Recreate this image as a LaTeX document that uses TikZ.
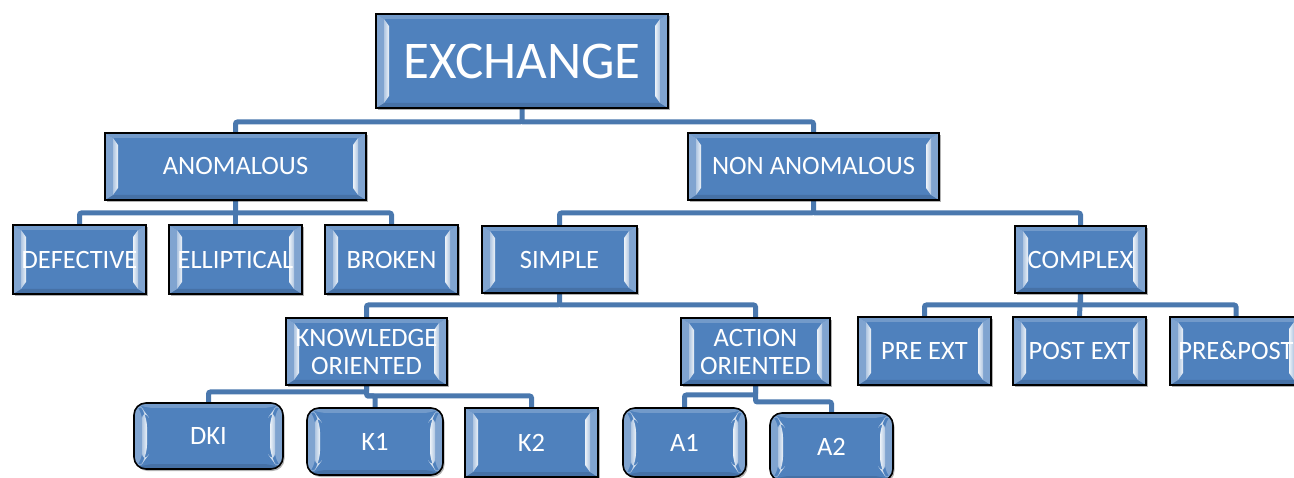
\documentclass[tikz,border=0pt]{standalone}
\usepackage{fontspec}
\setmainfont{Carlito}
\usetikzlibrary{calc,backgrounds,shadows}
\definecolor{boxblue}{HTML}{4F81BD}
\definecolor{linkblue}{HTML}{4A78AE}
\tikzset{
  bevelpic/.style={path picture={
    \path (path picture bounding box.south west) coordinate (bsw)
          (path picture bounding box.north east) coordinate (bne);
    % top band
    \fill[boxblue!80!white] (bsw|-bne) -- (bne) -- ($(bne)+(-8pt,-5pt)$) -- ($(bsw|-bne)+(8pt,-5pt)$) -- cycle;
    % bottom band
    \fill[boxblue!88!black] (bsw) -- (bne|-bsw) -- ($(bne|-bsw)+(-8pt,5pt)$) -- ($(bsw)+(8pt,5pt)$) -- cycle;
    % left band
    \fill[boxblue!72!white] (bsw|-bne) -- ($(bsw|-bne)+(8pt,-5pt)$) -- ($(bsw)+(8pt,5pt)$) -- (bsw) -- cycle;
    % right band
    \fill[boxblue!72!white] (bne) -- ($(bne)+(-8pt,-5pt)$) -- ($(bne|-bsw)+(-8pt,5pt)$) -- (bne|-bsw) -- cycle;
    % left highlight strip
    \shade[left color=boxblue!45!white, right color=white!90!boxblue]
      ($(bsw|-bne)+(8pt,-5pt)$) -- ($(bsw|-bne)+(13pt,-12pt)$) -- ($(bsw)+(13pt,12pt)$) -- ($(bsw)+(8pt,5pt)$) -- cycle;
    % right highlight strip
    \shade[right color=boxblue!45!white, left color=white!90!boxblue]
      ($(bne)+(-8pt,-5pt)$) -- ($(bne)+(-13pt,-12pt)$) -- ($(bne|-bsw)+(-13pt,12pt)$) -- ($(bne|-bsw)+(-8pt,5pt)$) -- cycle;
  }},
  box/.style={draw=black, line width=1.6pt, fill=boxblue, text=white, inner sep=0pt,
    align=center, font=\fontsize{26.5}{28}\selectfont, bevelpic,
    drop shadow={shadow xshift=1.5pt, shadow yshift=-2pt, opacity=0.3, fill=black}},
  rbox/.style={box, rounded corners=12pt},
  conn/.style={draw=linkblue, line width=5pt, rounded corners=2pt},
}
\begin{document}
\begin{tikzpicture}[x=1pt, y=-1pt]
\useasboundingbox (0,0) rectangle (1294,478);

\node[box, minimum width=292pt, minimum height=94pt, font=\fontsize{53}{56}\selectfont] (EX) at (522,61) {EXCHANGE};

\node[box, minimum width=261pt, minimum height=67pt] (AN) at (235.5,166.5) {ANOMALOUS};
\node[box, minimum width=251pt, minimum height=67pt] (NA) at (813.5,166.5) {NON ANOMALOUS};

\node[box, minimum width=133pt, minimum height=69pt] (DEF) at (79.5,259.5) {DEFECTIVE};
\node[box, minimum width=133pt, minimum height=69pt] (ELL) at (235.5,259.5) {ELLIPTICAL};
\node[box, minimum width=133pt, minimum height=69pt] (BRO) at (391.5,259.5) {BROKEN};

\node[box, minimum width=155pt, minimum height=67pt] (SIM) at (559.5,259.5) {SIMPLE};
\node[box, minimum width=131pt, minimum height=67pt] (COM) at (1080.5,259.5) {COMPLEX};

\node[box, minimum width=161pt, minimum height=67pt] (KN) at (366.5,351.5) {KNOWLEDGE\\ORIENTED};
\node[box, minimum width=149pt, minimum height=67pt] (AC) at (755.5,351.5) {ACTION\\ORIENTED};

\node[box, minimum width=133pt, minimum height=68pt] (PRE) at (924.5,351) {PRE EXT};
\node[box, minimum width=133pt, minimum height=68pt] (POST) at (1079.5,351) {POST EXT};
\node[box, minimum width=132pt, minimum height=68pt] (PP) at (1236,351) {PRE\&POST};

\node[rbox, minimum width=149pt, minimum height=66pt] (DKI) at (208.5,436) {DKI};
\node[rbox, minimum width=136pt, minimum height=67pt] (K1) at (375,441.5) {K1};
\node[box, minimum width=133pt, minimum height=69pt] (K2) at (531.5,442.5) {K2};
\node[rbox, minimum width=123pt, minimum height=69pt] (A1) at (684.5,442.5) {A1};
\node[rbox, minimum width=123pt, minimum height=68pt] (A2) at (831.5,447) {A2};

\begin{scope}[on background layer]
\draw[conn] (EX.south) -- (EX.south |- 0,122) -| (AN.north);
\draw[conn] (EX.south |- 0,122) -| (NA.north);

\draw[conn] (AN.south) -- (AN.south |- 0,213) -| (DEF.north);
\draw[conn] (AN.south) -- (ELL.north);
\draw[conn] (AN.south |- 0,213) -| (BRO.north);

\draw[conn] (NA.south) -- (NA.south |- 0,213) -| (SIM.north);
\draw[conn] (NA.south |- 0,213) -| (COM.north);

\draw[conn] (SIM.south) -- (SIM.south |- 0,305) -| (KN.north);
\draw[conn] (SIM.south |- 0,305) -| (AC.north);

\draw[conn] (COM.south) -- (COM.south |- 0,305) -| (PRE.north);
\draw[conn] (COM.south) -- (POST.north);
\draw[conn] (COM.south |- 0,305) -| (PP.north);

\draw[conn] (KN.south) -- (KN.south |- 0,392) -| (DKI.north);
\draw[conn] (KN.south) -- (KN.south |- 0,396) -| (K1.north);
\draw[conn] (KN.south |- 0,396) -| (K2.north);

\draw[conn] (AC.south) -- (AC.south |- 0,395) -| (A1.north);
\draw[conn] (AC.south) -- (AC.south |- 0,402) -| (A2.north);
\end{scope}
\end{tikzpicture}
\end{document}
